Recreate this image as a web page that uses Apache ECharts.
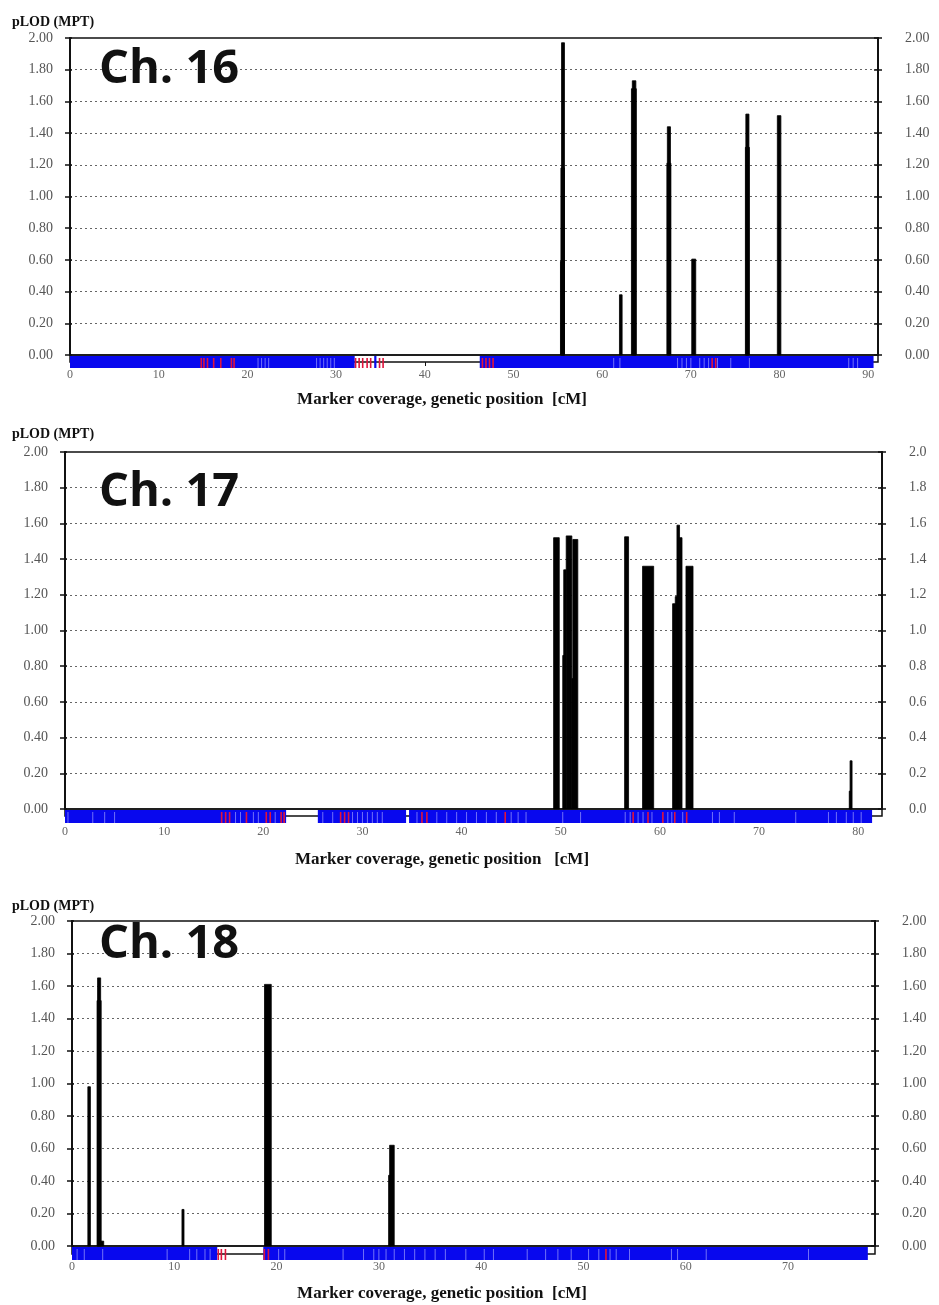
<!DOCTYPE html>
<html>
<head>
<meta charset="utf-8">
<title>pLOD (MPT) - Ch. 16, 17, 18</title>
<script src="https://cdn.jsdelivr.net/npm/echarts@6/dist/echarts.min.js"></script>
<style>
  html, body { margin: 0; padding: 0; background: #fff; }
  #chart { width: 939px; height: 1305px; }
</style>
</head>
<body>
<div id="chart"></div>
<script>
// y ticks (pLOD)
var yTicks = [0, 0.2, 0.4, 0.6, 0.8, 1.0, 1.2, 1.4, 1.6, 1.8, 2.0]

// x tick labels (cM)
var xTicks16 = [0, 10, 20, 30, 40, 50, 60, 70, 80, 90]
var xTicks17 = [0, 10, 20, 30, 40, 50, 60, 70, 80]
var xTicks18 = [0, 10, 20, 30, 40, 50, 60, 70]

// peaks: [from cM, to cM, pLOD]
var peaks16 = [
  [55.30, 55.75, 0.59], [55.35, 55.75, 1.18], [55.42, 55.75, 1.97],
  [61.95, 62.25, 0.38],
  [63.30, 63.85, 1.68], [63.40, 63.80, 1.73],
  [67.30, 67.75, 1.21], [67.35, 67.70, 1.44],
  [70.10, 70.55, 0.605],
  [76.15, 76.60, 1.31], [76.20, 76.55, 1.52],
  [79.75, 80.15, 1.51]
]
var peaks17 = [
  [49.28, 49.85, 1.52],
  [50.20, 50.35, 0.86], [50.30, 50.55, 1.34], [50.55, 51.12, 1.53], [51.12, 51.22, 0.73], [51.22, 51.72, 1.51],
  [56.44, 56.84, 1.525],
  [58.25, 59.37, 1.36],
  [61.28, 61.60, 1.15], [61.55, 61.75, 1.19], [61.72, 61.98, 1.59], [61.95, 62.23, 1.52],
  [62.63, 63.34, 1.36],
  [79.10, 79.30, 0.10], [79.18, 79.38, 0.27]
]
var peaks18 = [
  [1.55, 1.80, 0.98],
  [2.45, 2.85, 1.51], [2.50, 2.80, 1.65], [2.80, 3.10, 0.03],
  [10.75, 10.95, 0.225],
  [18.82, 19.48, 1.61],
  [30.95, 31.20, 0.435], [31.05, 31.50, 0.62]
]

// marker coverage (blue) intervals, cM
var cover16 = [[0, 32.1], [34.3, 34.55], [46.2, 90.6]]
var cover17 = [[0, 22.3], [25.5, 34.4], [34.7, 81.4]]
var cover18 = [[0, 14.2], [18.7, 77.8]]

// single markers drawn in red
var red16 = [14.8, 15.1, 15.5, 16.2, 17.0, 18.2, 18.5, 32.2, 32.6, 33.0, 33.5, 33.9, 34.9, 35.3, 46.5, 46.9, 47.3, 47.7, 72.4, 72.8]
var red17 = [15.8, 16.2, 16.6, 18.3, 20.3, 20.7, 21.8, 22.1, 27.8, 28.2, 28.6, 36.0, 36.5, 44.4, 57.3, 58.8, 60.3, 61.5, 62.7]
var red18 = [14.3, 14.6, 15.0, 18.8, 19.2, 52.2]

// light marker ticks inside the blue band
var white16 = [21.2, 21.6, 22.0, 22.4, 27.8, 28.2, 28.6, 29.0, 29.4, 29.8, 61.3, 62.0, 68.5, 69.0, 69.5, 70.0, 71.0, 71.5, 72.0, 73.0, 74.5, 76.6, 87.8, 88.3, 88.8]
var white17 = [0.3, 2.8, 4.0, 5.0, 17.2, 17.7, 19.0, 19.5, 21.2, 26.0, 27.0, 29.0, 29.5, 30.0, 30.5, 31.0, 31.5, 32.0, 35.5, 37.5, 38.5, 39.5, 40.5, 41.5, 42.5, 43.5, 45.0, 45.7, 46.5, 50.2, 52.0, 56.5, 57.0, 57.8, 58.3, 59.2, 60.8, 61.2, 62.3, 65.3, 66.0, 67.5, 73.7, 77.0, 77.8, 78.8, 79.5, 80.3]
var white18 = [0.5, 1.2, 3.0, 9.3, 11.5, 12.2, 13.0, 13.5, 20.2, 20.8, 26.5, 28.5, 29.5, 30.0, 30.7, 31.5, 32.5, 33.5, 34.5, 35.5, 36.5, 38.5, 40.3, 41.2, 44.5, 46.3, 47.5, 48.8, 50.5, 51.5, 52.6, 53.2, 54.5, 58.6, 59.2, 62.0, 72.0]

var BLUE = '#0808ee'
var RED = '#e0143c'
var SERIF = '"Liberation Serif", "DejaVu Serif", serif'

var panels = [
  { name: 'Ch. 16', left: 70, top: 38, width: 808, height: 317, band: 7, drop: 6, xMax: 91.1, xTicks: xTicks16, labelGap: 7, rightDigits: 2,
    peaks: peaks16, cover: cover16, red: red16, white: white16, titleY: 70, ylabY: 22, xnameY: 400, xname: 'Marker coverage, genetic position  [cM]' },
  { name: 'Ch. 17', left: 65, top: 452, width: 817, height: 357, band: 7, drop: 7, xMax: 82.4, xTicks: xTicks17, labelGap: 10, rightDigits: 1,
    peaks: peaks17, cover: cover17, red: red17, white: white17, titleY: 493, ylabY: 434, xnameY: 860, xname: 'Marker coverage, genetic position   [cM]' },
  { name: 'Ch. 18', left: 72, top: 921, width: 803, height: 325, band: 8, drop: 6, xMax: 78.5, xTicks: xTicks18, labelGap: 7, rightDigits: 2,
    peaks: peaks18, cover: cover18, red: red18, white: white18, titleY: 945, ylabY: 906, xnameY: 1294, xname: 'Marker coverage, genetic position  [cM]' }
]

function peakItem(params, api) {
  var a = api.coord([api.value(0), api.value(2)])
  var b = api.coord([api.value(1), 0])
  return {
    type: 'rect',
    shape: { x: a[0], y: a[1], width: Math.max(b[0] - a[0], 1.2), height: b[1] - a[1] },
    style: { fill: '#000', stroke: '#000', lineWidth: 0.8 }
  }
}

function coverItem(drop) {
  return function (params, api) {
    var a = api.coord([api.value(0), 1])
    var b = api.coord([api.value(1), 0])
    return { type: 'rect', shape: { x: a[0], y: a[1] + 1, width: b[0] - a[0], height: b[1] - a[1] + drop - 1 }, style: { fill: BLUE } }
  }
}

function markItem(color, w, drop) {
  return function (params, api) {
    var a = api.coord([api.value(0), 1])
    var b = api.coord([api.value(0), 0])
    return { type: 'rect', shape: { x: a[0] - w / 2, y: a[1] + 3, width: w, height: b[1] - a[1] + drop - 3 }, style: { fill: color } }
  }
}

var option = { animation: false, backgroundColor: '#fff', grid: [], xAxis: [], yAxis: [], series: [], graphic: [] }

panels.forEach(function (p, i) {
  var gMain = 2 * i, gBand = 2 * i + 1, yBase = 5 * i
  var border = { show: true, borderColor: '#111', borderWidth: 1.5, containLabel: false, outerBoundsMode: 'none', backgroundColor: 'transparent' }
  option.grid.push(Object.assign({ left: p.left, top: p.top, width: p.width, height: p.height }, border))
  option.grid.push(Object.assign({ left: p.left, top: p.top + p.height, width: p.width, height: p.band }, border))

  option.xAxis.push({ type: 'value', gridIndex: gMain, min: 0, max: p.xMax, show: false })
  option.xAxis.push({
    type: 'value', gridIndex: gBand, min: 0, max: p.xMax, interval: 10,
    axisLine: { show: false },
    axisTick: { show: true, length: 4, lineStyle: { color: '#111' }, customValues: p.xTicks },
    axisLabel: { margin: p.labelGap, color: '#666', fontFamily: SERIF, fontSize: 12, customValues: p.xTicks },
    splitLine: { show: false }
  })

  var yCommon = { type: 'value', gridIndex: gMain, min: 0, max: 2, interval: 0.2 }
  // left labelled axis with dotted grid
  option.yAxis.push(Object.assign({}, yCommon, {
    position: 'left',
    axisLine: { show: true, lineStyle: { color: '#111', width: 2 } },
    axisTick: { show: true, length: 5, lineStyle: { color: '#111', width: 1.5 } },
    axisLabel: { margin: 17, color: '#555', fontFamily: SERIF, fontSize: 14, formatter: function (v) { return v.toFixed(2) } },
    splitLine: { show: true, showMinLine: false, showMaxLine: false, lineStyle: { color: '#666', width: 1, type: [2, 3] } }
  }))
  // right labelled axis
  option.yAxis.push(Object.assign({}, yCommon, {
    position: 'right',
    axisLine: { show: true, lineStyle: { color: '#111', width: 2 } },
    axisTick: { show: true, length: 4, lineStyle: { color: '#111', width: 1.5 } },
    axisLabel: { margin: 27, color: '#555', fontFamily: SERIF, fontSize: 14, formatter: function (v) { return v.toFixed(p.rightDigits) } },
    splitLine: { show: false }
  }))
  // inside ticks (left / right)
  option.yAxis.push(Object.assign({}, yCommon, {
    position: 'left', axisLine: { show: false }, axisLabel: { show: false }, splitLine: { show: false },
    axisTick: { show: true, inside: true, length: 2, lineStyle: { color: '#111', width: 1.5 } }
  }))
  option.yAxis.push(Object.assign({}, yCommon, {
    position: 'right', axisLine: { show: false }, axisLabel: { show: false }, splitLine: { show: false },
    axisTick: { show: true, inside: true, length: 4, lineStyle: { color: '#111', width: 1.5 } }
  }))
  option.yAxis.push({ type: 'value', gridIndex: gBand, min: 0, max: 1, show: false })

  option.series.push({
    type: 'custom', name: p.name + ' coverage', xAxisIndex: gBand, yAxisIndex: yBase + 4, z: 3,
    renderItem: coverItem(p.drop), encode: { x: [0, 1] }, data: p.cover
  })
  option.series.push({
    type: 'custom', name: p.name + ' markers', xAxisIndex: gBand, yAxisIndex: yBase + 4, z: 4,
    renderItem: markItem('rgba(200,200,255,0.55)', 1, p.drop), encode: { x: 0, y: 1 },
    data: p.white.map(function (v) { return [v, 0] })
  })
  option.series.push({
    type: 'custom', name: p.name + ' red markers', xAxisIndex: gBand, yAxisIndex: yBase + 4, z: 5,
    renderItem: markItem(RED, 1.6, p.drop), encode: { x: 0, y: 1 },
    data: p.red.map(function (v) { return [v, 0] })
  })
  option.series.push({
    type: 'custom', name: p.name + ' pLOD', xAxisIndex: gMain, yAxisIndex: yBase, z: 6,
    renderItem: peakItem, encode: { x: [0, 1], y: 2 }, data: p.peaks
  })

  option.graphic.push(
    { type: 'text', x: 12, y: p.ylabY, style: { text: 'pLOD (MPT)', font: 'bold 14px ' + SERIF, fill: '#111', verticalAlign: 'middle' } },
    { type: 'text', x: 99, y: p.titleY, z: 10, style: { text: p.name, font: 'bold 47px "Open Sans", "Noto Sans", sans-serif', fill: '#111', verticalAlign: 'middle' } },
    { type: 'text', x: 442, y: p.xnameY, style: { text: p.xname, font: 'bold 17px ' + SERIF, fill: '#111', align: 'center', verticalAlign: 'middle' } }
  )
})

var chart = echarts.init(document.getElementById('chart'))
chart.setOption(option)
</script>
</body>
</html>
